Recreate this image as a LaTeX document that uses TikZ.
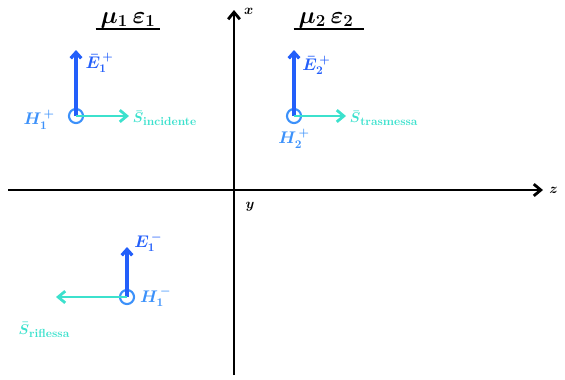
\documentclass[tikz,border=0pt]{standalone}
\usepackage{amsmath}
\usetikzlibrary{arrows.meta, positioning}
\definecolor{eblue}{RGB}{35,95,250}
\definecolor{hblue}{RGB}{60,145,250}
\definecolor{scyan}{RGB}{60,225,205}
\newcommand{\ssub}[1]{\raisebox{-3pt}{\normalsize\bfseries #1}}
\tikzset{
  axis/.style={line width=2.4pt, draw=black, -{Straight Barb[length=6pt, width=10pt]}},
  efield/.style={line width=2.8pt, draw=eblue, -{Straight Barb[length=5pt, width=9pt]}},
  sfield/.style={line width=2.4pt, draw=scyan, -{Straight Barb[length=6pt, width=10pt]}},
  hdot/.style={circle, draw=hblue, line width=1.8pt, minimum size=12pt, inner sep=0pt},
  medium/.style={font=\huge\boldmath, text=black, inner sep=1pt},
  axlabel/.style={font=\large\boldmath},
  elabel/.style={text=eblue, font=\Large\boldmath, inner sep=1pt},
  hlabel/.style={text=hblue, font=\Large\boldmath, inner sep=1pt},
  slabel/.style={text=scyan, font=\large\boldmath, inner sep=1pt},
}
\begin{document}
\begin{tikzpicture}[x=0.03cm, y=-0.03cm]
  \useasboundingbox (0,0) rectangle (565,379);

  % Axes
  \coordinate (xbot) at (234,375);
  \coordinate (xtop) at (234,10);
  \coordinate (zleft) at (8,190);
  \coordinate (zright) at (543,190);
  \draw[axis] (xbot) -- (xtop);
  \draw[axis] (zleft) -- (zright);
  \node[axlabel, right=5pt of xtop, yshift=-1pt] (xlab) {$x$};
  \node[axlabel, right=2pt of zright] (zlab) {$z$};
  \node[axlabel] (ylab) at (250,207) {$y$};

  % Media
  \node[medium] (med1) at (128,20) {$\mu_1\,\varepsilon_1$};
  \draw[line width=1.6pt] ([xshift=-3pt]med1.south west) -- ([xshift=3pt]med1.south east);
  \node[medium] (med2) at (326,20) {$\mu_2\,\varepsilon_2$};
  \draw[line width=1.6pt] ([xshift=-3pt]med2.south west) -- ([xshift=8pt]med2.south east);

  % Incident wave
  \node[hdot] (h1p) at (76,116) {};
  \coordinate (e1ptip) at (76,50);
  \coordinate (s1tip) at (129,116);
  \draw[efield] (h1p.center) -- (e1ptip);
  \draw[sfield] (h1p.center) -- (s1tip);
  \node[elabel, right=7pt of e1ptip, yshift=-11pt] (e1plab) {$\bar{E}_1^{\,+}$};
  \node[slabel, right=2pt of s1tip, yshift=-2pt] (s1lab) {$\bar{S}$\ssub{incidente}};
  \node[hlabel, left=10pt of h1p, yshift=-3pt] (h1plab) {$H_1^{\,+}$};

  % Transmitted wave
  \node[hdot] (h2p) at (294,116) {};
  \coordinate (e2ptip) at (294,50);
  \coordinate (s2tip) at (346,116);
  \draw[efield] (h2p.center) -- (e2ptip);
  \draw[sfield] (h2p.center) -- (s2tip);
  \node[elabel, right=6pt of e2ptip, yshift=-13pt] (e2plab) {$\bar{E}_2^{\,+}$};
  \node[slabel, right=2pt of s2tip, yshift=-2pt] (s2lab) {$\bar{S}$\ssub{trasmessa}};
  \node[hlabel, below=3pt of h2p] (h2plab) {$H_2^{\,+}$};

  % Reflected wave
  \node[hdot] (h1m) at (127,297) {};
  \coordinate (e1mtip) at (127,247);
  \coordinate (s3tip) at (56,297);
  \draw[efield] (h1m.center) -- (e1mtip);
  \draw[sfield] (h1m.center) -- (s3tip);
  \node[elabel, right=5pt of e1mtip, yshift=4pt] (e1mlab) {$E_1^{\,-}$};
  \node[hlabel, right=3pt of h1m] (h1mlab) {$H_1^{\,-}$};
  \node[slabel] (s3lab) at (44,330) {$\bar{S}$\ssub{riflessa}};
\end{tikzpicture}
\end{document}
